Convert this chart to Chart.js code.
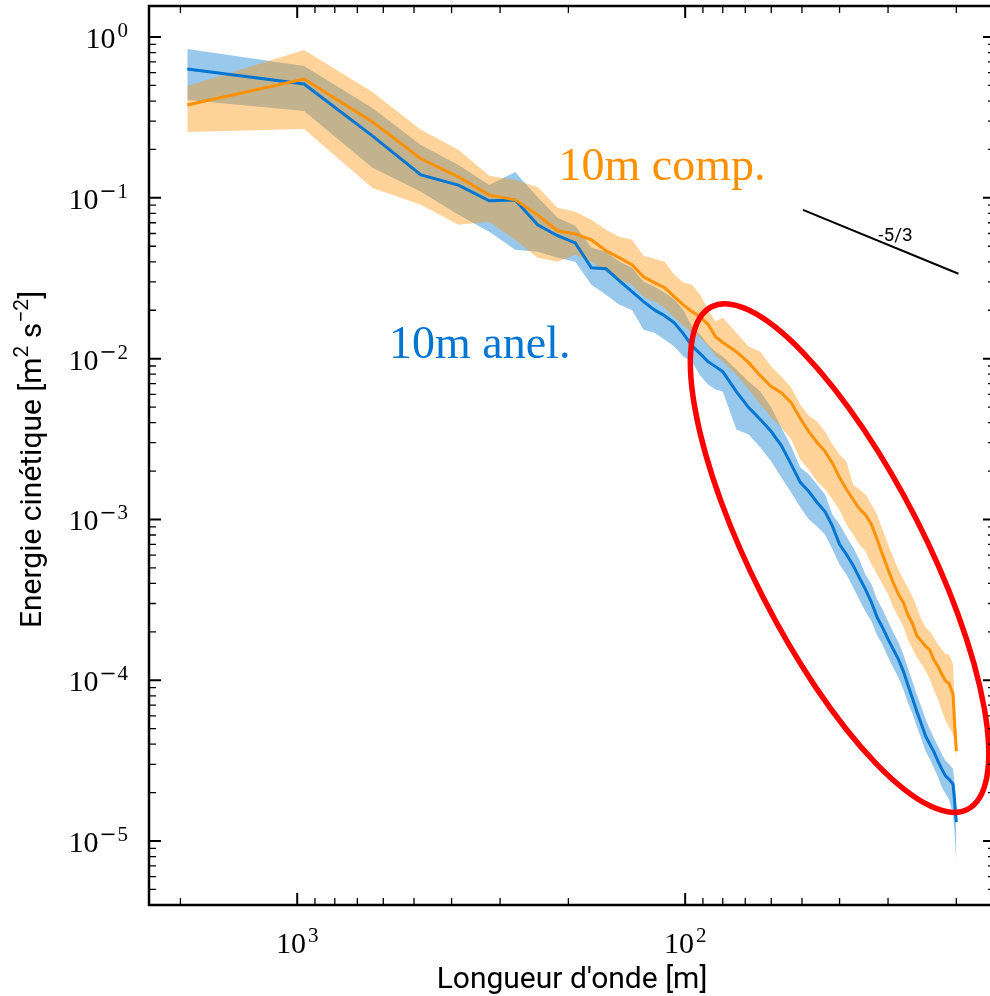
<!DOCTYPE html>
<html>
<head>
<meta charset="utf-8">
<script src="https://cdn.jsdelivr.net/npm/chart.js@4/dist/chart.umd.min.js"></script>
<style>
  html, body { margin: 0; padding: 0; background: #fff; overflow: hidden; }
  #spec { display: block; }
</style>
</head>
<body>
<canvas id="spec" width="1000" height="996" style="width:1000px;height:996px"></canvas>
<script>
// longueur d'onde [m] (domaine 1920 m, k = 1..96)
const wavelength = [1920, 960, 640, 480, 384, 320, 274.3, 240, 213.3, 192, 174.5, 160, 147.7, 137.1, 128, 120, 112.9, 106.7, 101.1, 96, 91.4, 87.3, 83.5, 80,
  73.8, 68.6, 64, 60, 56.5, 53.3, 50.5, 48, 45.7, 43.6, 41.7, 40, 38.4, 36.9, 35.6, 34.3, 33.1, 32, 31, 30, 29.1, 28.2, 27.4, 26.7, 25.9, 25.3, 24.6, 24, 23.4, 22.9, 22.3, 21.8, 21.3, 20.9, 20.4,
  20.2, 20];

// 10m anel.
const anelMean = [0.633, 0.511, 0.243, 0.139, 0.120, 0.0958, 0.097, 0.068, 0.0581, 0.0525, 0.0367, 0.0362, 0.0305, 0.0261, 0.0226, 0.0201, 0.0185, 0.0167, 0.0143, 0.0120, 0.0107, 0.00958, 0.00892, 0.0083,
  0.00624, 0.00496, 0.00418, 0.00352, 0.00288, 0.0022, 0.0017, 0.00149, 0.001275, 0.00112, 0.000905, 0.0007, 0.000606, 0.000518, 0.000436, 0.000367, 0.000305, 0.000246, 0.000213, 0.00018, 0.000156, 0.000135, 0.000114, 9.44e-5, 7.62e-5, 6.42e-5, 5.33e-5, 4.49e-5, 4.0e-5, 3.62e-5, 3.14e-5, 2.80e-5, 2.53e-5, 2.43e-5, 2.26e-5,
  1.75e-5, 1.31e-5];
const anelHigh = [0.842, 0.661, 0.362, 0.213, 0.160, 0.120, 0.145, 0.101, 0.0751, 0.067, 0.0489, 0.0462, 0.040, 0.0367, 0.0301, 0.028, 0.0257, 0.0233, 0.0201, 0.0158, 0.0141, 0.0122, 0.01105, 0.0103,
  0.00855, 0.0072, 0.00624, 0.00496, 0.00373, 0.00284, 0.0021, 0.0019, 0.00165, 0.00143, 0.00107, 0.000931, 0.000784, 0.00067, 0.000564, 0.000455, 0.000395, 0.000318, 0.000276, 0.000233, 0.000199, 0.000172, 0.000145, 0.00012, 9.72e-5, 8.19e-5, 6.8e-5, 5.72e-5, 4.96e-5, 4.42e-5, 3.89e-5, 3.47e-5, 3.14e-5, 3.01e-5, 2.80e-5,
  2.26e-5, 1.82e-5];
const anelLow = [0.406, 0.347, 0.154, 0.109, 0.0784, 0.0615, 0.0475, 0.0462, 0.0424, 0.040, 0.0288, 0.025, 0.0216, 0.0201, 0.0151, 0.0145, 0.0131, 0.0119, 0.0103, 0.00958, 0.00784, 0.0069, 0.00642, 0.00624,
  0.00362, 0.00337, 0.0028, 0.00229, 0.00182, 0.00147, 0.00119, 0.001, 0.000905, 0.000807, 0.000651, 0.000525, 0.000455, 0.000378, 0.000318, 0.000268, 0.000233, 0.00019, 0.000167, 0.000139, 0.00012, 0.000104, 8.79e-5, 7.3e-5, 6.15e-5, 5.18e-5, 4.3e-5, 3.62e-5, 3.23e-5, 2.88e-5, 2.5e-5, 2.16e-5, 1.96e-5, 1.82e-5, 1.47e-5,
  1.105e-5, 7.2e-6];

// 10m comp.
const compMean = [0.378, 0.548, 0.297, 0.175, 0.135, 0.104, 0.0972, 0.0784, 0.0624, 0.0597, 0.0548, 0.0469, 0.0424, 0.0384, 0.0323, 0.0297, 0.0276, 0.0243, 0.0216, 0.0196, 0.0182, 0.0163, 0.0137, 0.0126,
  0.01105, 0.00944, 0.00784, 0.0067, 0.00615, 0.00533, 0.00424, 0.00352, 0.00301, 0.00265, 0.00223, 0.00182, 0.00154, 0.00133, 0.00117, 0.00107, 0.000931, 0.000751, 0.000606, 0.000489, 0.000406, 0.000342, 0.000305, 0.000257, 0.000223, 0.00019, 0.000175, 0.000163, 0.000154, 0.000135, 0.000122, 0.000109, 9.86e-5, 9.58e-5, 8.19e-5,
  5.33e-5, 3.62e-5];
const compHigh = [0.496, 0.83, 0.455, 0.265, 0.199, 0.137, 0.129, 0.117, 0.0867, 0.0819, 0.073, 0.0633, 0.0572, 0.0548, 0.0436, 0.0418, 0.040, 0.0332, 0.0297, 0.0288, 0.025, 0.0201, 0.017, 0.018,
  0.0145, 0.0119, 0.01105, 0.00892, 0.00773, 0.00661, 0.00518, 0.00442, 0.00406, 0.00352, 0.00292, 0.00253, 0.00229, 0.00165, 0.00154, 0.00143, 0.00124, 0.00107, 0.000867, 0.0007, 0.000581, 0.000489, 0.000424, 0.000378, 0.000328, 0.000284, 0.000239, 0.000213, 0.000201, 0.000185, 0.000167, 0.000156, 0.000145, 0.000145, 0.000126,
  7.62e-5, 4.3e-5];
const compLow = [0.257, 0.268, 0.115, 0.0905, 0.068, 0.071, 0.0548, 0.0424, 0.040, 0.0442, 0.040, 0.0347, 0.031, 0.0288, 0.0243, 0.0226, 0.0207, 0.018, 0.016, 0.0145, 0.0135, 0.012, 0.0104, 0.00958,
  0.00794, 0.00642, 0.00518, 0.0043, 0.00373, 0.00314, 0.00236, 0.00204, 0.00172, 0.00154, 0.00133, 0.00115, 0.000931, 0.000807, 0.0007, 0.000633, 0.000525, 0.000455, 0.000395, 0.000342, 0.000284, 0.000246, 0.000216, 0.00018, 0.000156, 0.000139, 0.000126, 0.000114, 0.000101, 8.79e-5, 7.62e-5, 6.42e-5, 5.56e-5, 5.11e-5, 4.62e-5,
  4.0e-5, 3.14e-5];

// pente de reference -5/3
const slopeX = [49.7, 19.75];
const slopeY = [0.0842, 0.0337];

// graduations (exposants des puissances de 10)
const xMajorExp = [3, 2];
const yMajorExp = [0, -1, -2, -3, -4, -5];

const BLUE = 'rgb(0,118,210)';
const ORANGE = 'rgb(255,145,0)';
const SERIF = '"Liberation Serif", serif';
const SANS = 'Roboto, "DejaVu Sans", sans-serif';

function pts(ys) {
  return wavelength.map((w, i) => ({ x: w, y: ys[i] }));
}

// 10^exp, avec un signe moins large comme en LaTeX
function puissance10(ctx, exp, x, y, align) {
  const digits = String(Math.abs(exp));
  ctx.font = '30px ' + SERIF;
  const wb = ctx.measureText('10').width;
  ctx.font = '21px ' + SERIF;
  const wd = ctx.measureText(digits).width;
  const wm = exp < 0 ? 17 : 0;
  const total = wb + 2 + wm + wd;
  const x0 = align === 'right' ? x - total : x - total / 2;
  ctx.textAlign = 'left';
  ctx.textBaseline = 'alphabetic';
  ctx.font = '30px ' + SERIF;
  ctx.fillText('10', x0, y);
  let xs = x0 + wb + 2;
  if (exp < 0) {
    ctx.fillRect(xs + 1, y - 18.5, 13, 1.6);
    xs += wm;
  }
  ctx.font = '21px ' + SERIF;
  ctx.fillText(digits, xs, y - 11);
}

// texte avec exposants : [[texte, estExposant], ...]
function texteMixte(ctx, parts, cx, y, size) {
  const supSize = Math.round(size * 0.7);
  let total = 0;
  parts.forEach(p => {
    ctx.font = (p[1] ? supSize : size) + 'px ' + SANS;
    total += ctx.measureText(p[0]).width;
  });
  let x = cx - total / 2;
  ctx.textAlign = 'left';
  ctx.textBaseline = 'alphabetic';
  parts.forEach(p => {
    ctx.font = (p[1] ? supSize : size) + 'px ' + SANS;
    ctx.fillText(p[0], x, p[1] ? y - size * 0.42 : y);
    x += ctx.measureText(p[0]).width;
  });
}

const annotations = {
  id: 'annotations',
  afterDatasetsDraw(chart) {
    const ctx = chart.ctx;
    const xs = chart.scales.x, ys = chart.scales.y;
    ctx.save();
    // ellipse rouge
    const cx = xs.getPixelForValue(40), cy = ys.getPixelForValue(5.75e-4);
    ctx.beginPath();
    ctx.ellipse(cx, cy, 282, 86, 63 * Math.PI / 180, 0, 2 * Math.PI);
    ctx.strokeStyle = '#ff0000';
    ctx.lineWidth = 5.5;
    ctx.stroke();

    ctx.fillStyle = '#000';
    ctx.font = '19px ' + SANS;
    ctx.textAlign = 'center';
    ctx.textBaseline = 'middle';
    ctx.fillText('-5/3', xs.getPixelForValue(28.7), ys.getPixelForValue(0.0573));

    ctx.textAlign = 'left';
    ctx.textBaseline = 'alphabetic';
    ctx.font = '46px ' + SERIF;
    ctx.fillStyle = ORANGE;
    ctx.fillText('10m comp.', xs.getPixelForValue(212), ys.getPixelForValue(0.129));
    ctx.fillStyle = BLUE;
    ctx.fillText('10m anel.', xs.getPixelForValue(580), ys.getPixelForValue(0.0101));
    ctx.restore();
  }
};

const axes = {
  id: 'axes',
  afterDraw(chart) {
    const ctx = chart.ctx, a = chart.chartArea;
    const xs = chart.scales.x, ys = chart.scales.y;
    ctx.save();
    ctx.strokeStyle = '#000';
    ctx.lineWidth = 2.5;
    ctx.strokeRect(a.left, a.top, a.right - a.left, a.bottom - a.top);

    function tick(p, major, vertical) {
      const len = major ? 12 : 7;
      ctx.lineWidth = major ? 2 : 1.3;
      ctx.beginPath();
      if (vertical) {
        ctx.moveTo(p, a.bottom); ctx.lineTo(p, a.bottom - len);
        ctx.moveTo(p, a.top); ctx.lineTo(p, a.top + len);
      } else {
        ctx.moveTo(a.left, p); ctx.lineTo(a.left + len, p);
        ctx.moveTo(a.right, p); ctx.lineTo(a.right - len, p);
      }
      ctx.stroke();
    }
    for (let e = 0; e <= 4; e++) {
      for (let m = 1; m <= 9; m++) {
        const v = m * Math.pow(10, e);
        if (v >= xs.min && v <= xs.max) tick(xs.getPixelForValue(v), m === 1, true);
      }
    }
    for (let e = -7; e <= 1; e++) {
      for (let m = 1; m <= 9; m++) {
        const v = m * Math.pow(10, e);
        if (v >= ys.min && v <= ys.max) tick(ys.getPixelForValue(v), m === 1, false);
      }
    }

    ctx.fillStyle = '#000';
    xMajorExp.forEach(e => puissance10(ctx, e, xs.getPixelForValue(Math.pow(10, e)), a.bottom + 48, 'center'));
    yMajorExp.forEach(e => puissance10(ctx, e, a.left - 21, ys.getPixelForValue(Math.pow(10, e)) + 11, 'right'));

    ctx.font = '30px ' + SANS;
    ctx.textAlign = 'center';
    ctx.textBaseline = 'alphabetic';
    ctx.fillText("Longueur d'onde [m]", (a.left + a.right) / 2, 988);

    ctx.translate(41, (a.top + a.bottom) / 2 + 4);
    ctx.rotate(-Math.PI / 2);
    texteMixte(ctx, [['Energie cinétique [m', false], ['2', true], [' s', false], ['\u22122', true], [']', false]], 0, 0, 30);
    ctx.restore();
  }
};

const bande = (data, color, order) => ({
  data: pts(data), fill: '+1', backgroundColor: color,
  borderColor: 'rgba(0,0,0,0)', borderWidth: 0, pointRadius: 0, order: order
});
const bas = (data, order) => ({
  data: pts(data), fill: false, borderColor: 'rgba(0,0,0,0)', borderWidth: 0, pointRadius: 0, order: order
});

new Chart(document.getElementById('spec'), {
  type: 'line',
  data: {
    datasets: [
      bande(anelHigh, 'rgba(0,118,210,0.4)', 4),
      bas(anelLow, 4),
      bande(compHigh, 'rgba(255,145,0,0.4)', 3),
      bas(compLow, 3),
      { label: '10m anel.', data: pts(anelMean), borderColor: BLUE, borderWidth: 3, pointRadius: 0, fill: false, order: 2 },
      { label: '10m comp.', data: pts(compMean), borderColor: ORANGE, borderWidth: 3, pointRadius: 0, fill: false, order: 1 },
      { label: '-5/3', data: slopeX.map((x, i) => ({ x: x, y: slopeY[i] })), borderColor: '#000', borderWidth: 2, pointRadius: 0, fill: false, order: 0 }
    ]
  },
  options: {
    responsive: false,
    animation: false,
    layout: { padding: { left: 149, top: 6, right: 5, bottom: 91 } },
    plugins: { legend: { display: false }, tooltip: { enabled: false } },
    elements: { line: { tension: 0 } },
    scales: {
      x: { type: 'logarithmic', reverse: true, min: 15.9, max: 2410, display: false },
      y: { type: 'logarithmic', min: 4.0e-6, max: 1.56, display: false }
    }
  },
  plugins: [annotations, axes]
});
</script>
</body>
</html>
